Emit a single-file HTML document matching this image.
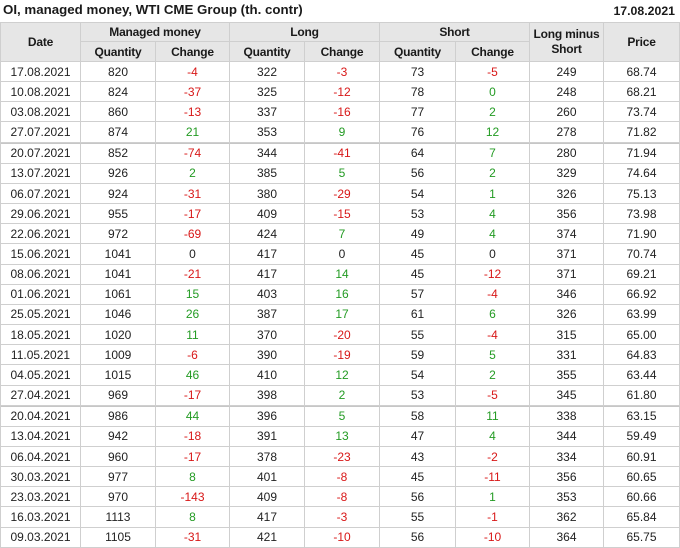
<!DOCTYPE html>
<html>
<head>
<meta charset="utf-8">
<style>
  html,body{margin:0;padding:0;background:#fff;}
  body{width:680px;height:548px;position:relative;overflow:hidden;
       font-family:"Liberation Sans",Arial,sans-serif;color:#222;}
  .title{position:absolute;left:3px;top:2px;font-weight:bold;font-size:13.3px;line-height:16px;color:#1a1a1a;white-space:nowrap;}
  .date{position:absolute;right:5px;top:3px;font-weight:bold;font-size:12.3px;line-height:16px;color:#1a1a1a;}
  .grid{position:absolute;left:0;top:22px;border-left:1px solid #cfcfcf;border-top:1px solid #cfcfcf;
        display:grid;
        grid-template-columns:80px 75px 74px 75px 75px 76px 74px 74px 76px;
        grid-template-rows:19px 20px repeat(4,20.17px) 21.17px repeat(12,20.17px) 21.17px repeat(6,20.17px);
        font-size:12px;}
  .grid>div{box-sizing:border-box;border-right:1px solid #cfcfcf;border-bottom:1px solid #cfcfcf;
        display:flex;align-items:center;justify-content:center;white-space:nowrap;line-height:14px;}
  .grid>div.h{background:#e6e6e6;font-weight:bold;color:#1a1a1a;letter-spacing:-0.2px;text-align:center;}
  .grid>div.t{border-top:1px solid #c6c6c6;}
  .r{color:#d81818;}
  .g{color:#239b23;}
  .rs{grid-row:span 2;}
  .cs{grid-column:span 2;}
  .lms{line-height:15px !important;}
</style>
</head>
<body>
<div class="title">OI, managed money, WTI CME Group (th. contr)</div>
<div class="date">17.08.2021</div>
<div class="grid">
  <div class="h rs">Date</div>
  <div class="h cs">Managed money</div>
  <div class="h cs">Long</div>
  <div class="h cs">Short</div>
  <div class="h rs lms">Long minus<br>Short</div>
  <div class="h rs">Price</div>
  <div class="h">Quantity</div><div class="h">Change</div>
  <div class="h">Quantity</div><div class="h">Change</div>
  <div class="h">Quantity</div><div class="h">Change</div>

  <div>17.08.2021</div><div>820</div><div class="r">-4</div><div>322</div><div class="r">-3</div><div>73</div><div class="r">-5</div><div>249</div><div>68.74</div>
  <div>10.08.2021</div><div>824</div><div class="r">-37</div><div>325</div><div class="r">-12</div><div>78</div><div class="g">0</div><div>248</div><div>68.21</div>
  <div>03.08.2021</div><div>860</div><div class="r">-13</div><div>337</div><div class="r">-16</div><div>77</div><div class="g">2</div><div>260</div><div>73.74</div>
  <div>27.07.2021</div><div>874</div><div class="g">21</div><div>353</div><div class="g">9</div><div>76</div><div class="g">12</div><div>278</div><div>71.82</div>

  <div class="t">20.07.2021</div><div class="t">852</div><div class="t r">-74</div><div class="t">344</div><div class="t r">-41</div><div class="t">64</div><div class="t g">7</div><div class="t">280</div><div class="t">71.94</div>
  <div>13.07.2021</div><div>926</div><div class="g">2</div><div>385</div><div class="g">5</div><div>56</div><div class="g">2</div><div>329</div><div>74.64</div>
  <div>06.07.2021</div><div>924</div><div class="r">-31</div><div>380</div><div class="r">-29</div><div>54</div><div class="g">1</div><div>326</div><div>75.13</div>
  <div>29.06.2021</div><div>955</div><div class="r">-17</div><div>409</div><div class="r">-15</div><div>53</div><div class="g">4</div><div>356</div><div>73.98</div>
  <div>22.06.2021</div><div>972</div><div class="r">-69</div><div>424</div><div class="g">7</div><div>49</div><div class="g">4</div><div>374</div><div>71.90</div>
  <div>15.06.2021</div><div>1041</div><div>0</div><div>417</div><div>0</div><div>45</div><div>0</div><div>371</div><div>70.74</div>
  <div>08.06.2021</div><div>1041</div><div class="r">-21</div><div>417</div><div class="g">14</div><div>45</div><div class="r">-12</div><div>371</div><div>69.21</div>
  <div>01.06.2021</div><div>1061</div><div class="g">15</div><div>403</div><div class="g">16</div><div>57</div><div class="r">-4</div><div>346</div><div>66.92</div>
  <div>25.05.2021</div><div>1046</div><div class="g">26</div><div>387</div><div class="g">17</div><div>61</div><div class="g">6</div><div>326</div><div>63.99</div>
  <div>18.05.2021</div><div>1020</div><div class="g">11</div><div>370</div><div class="r">-20</div><div>55</div><div class="r">-4</div><div>315</div><div>65.00</div>
  <div>11.05.2021</div><div>1009</div><div class="r">-6</div><div>390</div><div class="r">-19</div><div>59</div><div class="g">5</div><div>331</div><div>64.83</div>
  <div>04.05.2021</div><div>1015</div><div class="g">46</div><div>410</div><div class="g">12</div><div>54</div><div class="g">2</div><div>355</div><div>63.44</div>
  <div>27.04.2021</div><div>969</div><div class="r">-17</div><div>398</div><div class="g">2</div><div>53</div><div class="r">-5</div><div>345</div><div>61.80</div>

  <div class="t">20.04.2021</div><div class="t">986</div><div class="t g">44</div><div class="t">396</div><div class="t g">5</div><div class="t">58</div><div class="t g">11</div><div class="t">338</div><div class="t">63.15</div>
  <div>13.04.2021</div><div>942</div><div class="r">-18</div><div>391</div><div class="g">13</div><div>47</div><div class="g">4</div><div>344</div><div>59.49</div>
  <div>06.04.2021</div><div>960</div><div class="r">-17</div><div>378</div><div class="r">-23</div><div>43</div><div class="r">-2</div><div>334</div><div>60.91</div>
  <div>30.03.2021</div><div>977</div><div class="g">8</div><div>401</div><div class="r">-8</div><div>45</div><div class="r">-11</div><div>356</div><div>60.65</div>
  <div>23.03.2021</div><div>970</div><div class="r">-143</div><div>409</div><div class="r">-8</div><div>56</div><div class="g">1</div><div>353</div><div>60.66</div>
  <div>16.03.2021</div><div>1113</div><div class="g">8</div><div>417</div><div class="r">-3</div><div>55</div><div class="r">-1</div><div>362</div><div>65.84</div>
  <div>09.03.2021</div><div>1105</div><div class="r">-31</div><div>421</div><div class="r">-10</div><div>56</div><div class="r">-10</div><div>364</div><div>65.75</div>
</div>
</body>
</html>
